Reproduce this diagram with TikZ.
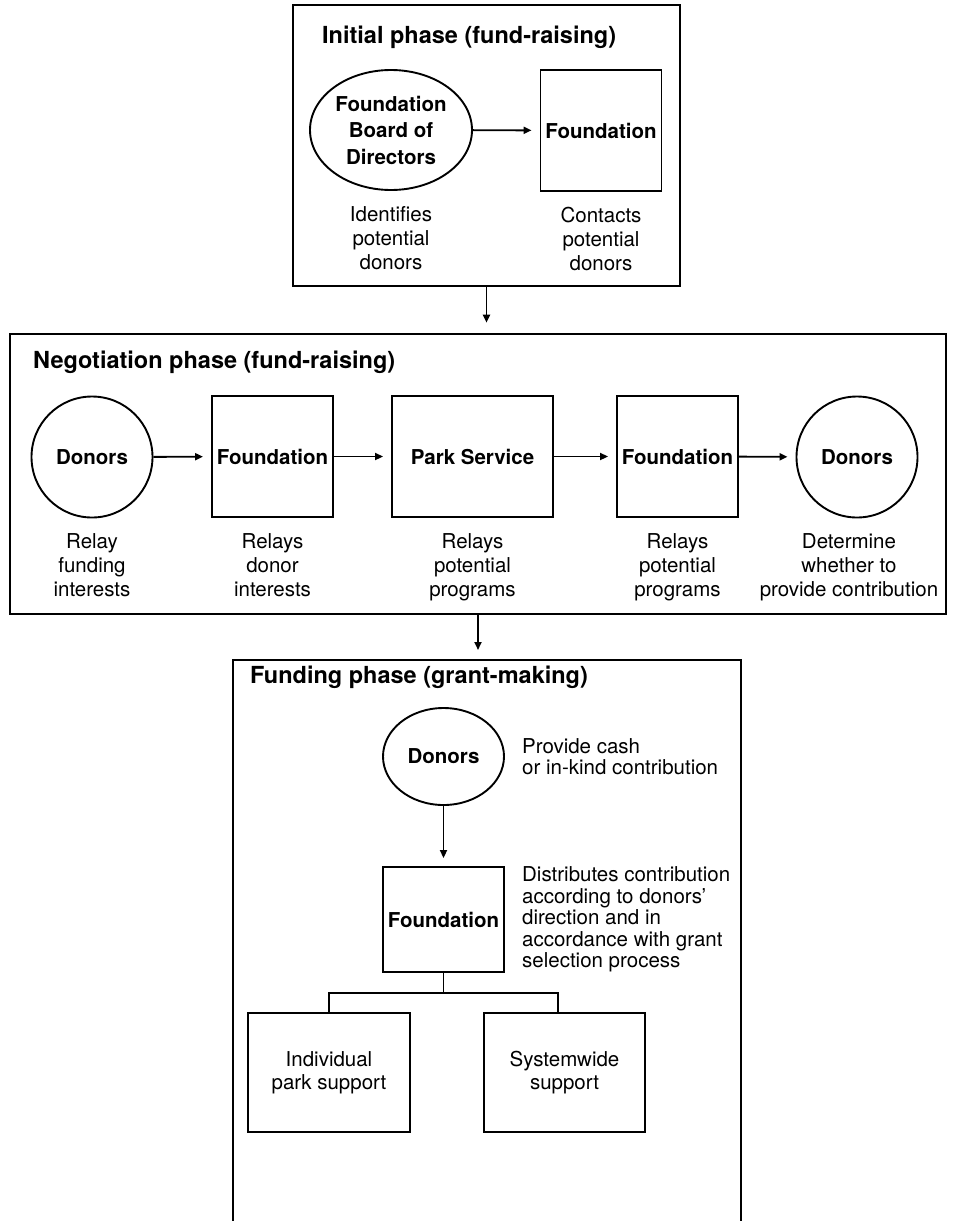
\documentclass[tikz,border=0pt]{standalone}
\usepackage{fontspec}
\setmainfont{TeX Gyre Heros}
\usetikzlibrary{positioning,arrows.meta,shapes.geometric}

\begin{document}
	\begin{tikzpicture}
		[x=1pt,y=-1pt,
		font=\fontsize{20.5}{24}\selectfont,
		frame/.style={draw,line width=2.6pt,inner sep=0pt},
		actor/.style={draw,line width=1.9pt,inner sep=0pt,align=center,
			font=\fontsize{20.5}{26.5}\selectfont\bfseries},
		unit/.style={actor,rectangle,minimum width=121pt,minimum height=121pt},
		who/.style={actor,ellipse,minimum width=121pt,minimum height=121pt},
		note/.style={inner sep=0pt,align=center,execute at begin node=\strut},
		side/.style={inner sep=0pt,align=left,font=\fontsize{20.5}{21.5}\selectfont},
		phase/.style={anchor=west,inner sep=0pt,font=\fontsize{23.5}{28}\selectfont\bfseries},
		flow/.style={-{Triangle[length=8pt,width=7pt]},line width=1.9pt,shorten >=8pt}]
		\useasboundingbox (0,0) rectangle (954,1221);
		
		% initial phase
		\node[frame,minimum width=387pt,minimum height=281pt] (initial) at (486.5,145.5) {};
		\node[phase] (initialtitle) at (322,37) {Initial phase (fund-raising)};
		\node[who,minimum width=162pt,minimum height=120pt] (board) at (391,130)
			{Foundation\\Board of\\Directors};
		\node[unit] (found1) at (601,130.5) {Foundation};
		\node[note,below=15pt of board] (identify) {Identifies\\potential\\donors};
		\node[note,below=15pt of found1] (contact) {Contacts\\potential\\donors};
		\draw[flow] (board) -- (found1);
		
		% negotiation phase
		\node[frame,minimum width=936pt,minimum height=280pt] (negotiation) at (478,474) {};
		\node[phase] (negotitle) at (33,362) {Negotiation phase (fund-raising)};
		\node[who] (donors1) at (92,457) {Donors};
		\node[unit] (found2) at (272.5,456.5) {Foundation};
		\node[unit,minimum width=161pt] (park) at (472.5,456.5) {Park Service};
		\node[unit] (found3) at (677.5,456.5) {Foundation};
		\node[who] (donors2) at (857,457) {Donors};
		\node[note,below=15pt of donors1] (relay1) {Relay\\funding\\interests};
		\node[note,below=15pt of found2] (relay2) {Relays\\donor\\interests};
		\node[note,below=15pt of park] (relay3) {Relays\\potential\\programs};
		\node[note,below=15pt of found3] (relay4) {Relays\\potential\\programs};
		\node[note,below=15pt of donors2,xshift=-8pt] (decide) {Determine\\whether to\\provide contribution};
		\draw[flow] (donors1) -- (found2);
		\draw[flow] (found2) -- (park);
		\draw[flow] (park) -- (found3);
		\draw[flow] (found3) -- (donors2);
		\draw[flow,shorten >=10pt] (initial.south) -- (initial.south |- negotiation.north);
		
		% funding phase
		\coordinate (fundtop) at (479,660);
		\draw[line width=2.6pt] (233,1221) |- (741,660) -- (741,1221);
		\draw[flow,shorten >=10pt] (negotiation.south) -- (negotiation.south |- fundtop);
		\node[phase] (fundtitle) at (250,677) {Funding phase (grant-making)};
		\node[who,minimum height=97pt] (donors3) at (443.5,756.5) {Donors};
		\node[side,right=17pt of donors3] (provide) {Provide cash\\or in-kind contribution};
		\node[unit,minimum height=105pt] (found4) at (443.5,919.5) {Foundation};
		\node[side,right=17pt of found4] (distribute) {Distributes contribution\\according to donors'\\direction and in\\accordance with grant\\selection process};
		\node[unit,minimum width=162pt,minimum height=119pt,font=\fontsize{20.5}{23}\selectfont]
			(indiv) at (329,1072.5) {Individual\\park support};
		\node[unit,minimum width=161pt,minimum height=119pt,font=\fontsize{20.5}{23}\selectfont]
			(sysw) at (564.5,1072.5) {Systemwide\\support};
		\draw[flow] (donors3) -- (found4);
		\draw[line width=1.9pt] (found4.south) -- ++(0,20) coordinate (fork) -| (indiv.north);
		\draw[line width=1.9pt] (fork) -| ([xshift=-6.5pt]sysw.north);
	\end{tikzpicture}
\end{document}
